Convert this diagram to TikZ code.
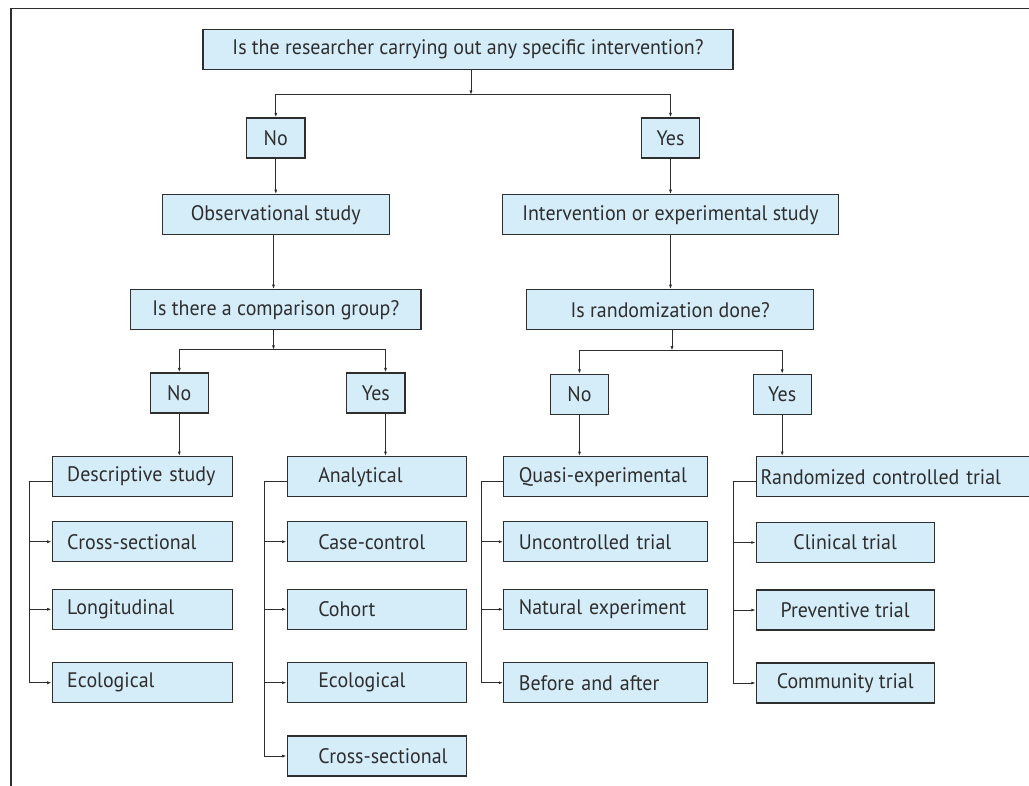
\documentclass[tikz,border=0pt]{standalone}
\usepackage{fontspec}
\setmainfont{PT Sans}[FakeStretch=0.95]
\usetikzlibrary{arrows.meta,calc}
\definecolor{boxfill}{HTML}{D5ECF9}
\definecolor{ink}{HTML}{2E2E2E}

\begin{document}
\begin{tikzpicture}[x=1pt,y=-1pt]
	\tikzset{box/.style={draw=ink,fill=boxfill,line width=1.1pt,minimum height=40pt,inner sep=0pt,text=ink,font=\fontsize{21}{25}\selectfont}}
	\tikzset{leaf/.style 2 args={box,anchor=west,text width=#1,align=left,execute at begin node={\hspace*{#2}}}}
	\tikzset{tip/.style={draw=ink,line width=1pt,-{Latex[length=4.5pt,width=3pt]}}}
	%\tikzset{every node/.style={draw=red}}
	\useasboundingbox (0,0) rectangle (1029,786);
	\clip (0,0) rectangle (1029,786);
	\draw[ink,line width=1.5pt] (11,786) -- (11,8.5) -- (1029,8.5);

	% questions and answers
	\node[box,minimum width=530] (q1) at (468,49.7) {Is the researcher carrying out any specific intervention?};
	\node[box,minimum width=58.3] (no1) at (275.8,138) {No};
	\node[box,minimum width=57.6] (yes1) at (670.5,138) {Yes};
	\node[box,minimum width=227] (obs) at (275.8,214.8) {Observational study};
	\node[box,minimum width=336.4] (int) at (670.5,214.8) {Intervention or experimental study};
	\node[box,minimum width=290.3] (cmp) at (275.8,309.8) {Is there a comparison group?};
	\node[box,minimum width=287] (rnd) at (670.2,309.8) {Is randomization done?};
	\node[box,minimum width=58] (no2) at (179.3,393) {No};
	\node[box,minimum width=58.3] (yes2) at (375.8,393) {Yes};
	\node[box,minimum width=57.6] (no3) at (579.5,394.5) {No};
	\node[box,minimum width=57.7] (yes3) at (782.2,394.5) {Yes};

	% study types
	\node[leaf={180pt}{15pt}] (desc) at (51.7,476.7) {Descriptive study};
	\node[leaf={180pt}{15pt}] (dcross) at (51.7,541.7) {Cross-sectional};
	\node[leaf={180pt}{15pt}] (dlong) at (51.7,609.3) {Longitudinal};
	\node[leaf={180pt}{15pt}] (deco) at (51.7,682.7) {Ecological};
	\node[leaf={179.6pt}{31pt}] (ana) at (286.7,476.7) {Analytical};
	\node[leaf={179.6pt}{31pt}] (acase) at (286.7,541.7) {Case-control};
	\node[leaf={179.6pt}{31pt}] (acoh) at (286.7,609.3) {Cohort};
	\node[leaf={179.6pt}{31pt}] (aeco) at (286.7,682.7) {Ecological};
	\node[leaf={179.6pt}{31pt}] (across) at (286.7,756) {Cross-sectional};
	\node[leaf={204pt}{15pt}] (quasi) at (503.3,476.7) {Quasi-experimental};
	\node[leaf={204pt}{15pt}] (qunc) at (503.3,541.7) {Uncontrolled trial};
	\node[leaf={204pt}{15pt}] (qnat) at (503.3,609.3) {Natural experiment};
	\node[leaf={204pt}{15pt}] (qba) at (503.3,682.7) {Before and after};
	\node[leaf={290pt}{4.3pt}] (rct) at (755.7,476.7) {Randomized controlled trial};
	\node[box,minimum width=177.7] (clin) at (845.2,542.5) {Clinical trial};
	\node[box,minimum width=177.7] (prev) at (845.2,610) {Preventive trial};
	\node[box,minimum width=177.7] (comm) at (845.2,683) {Community trial};

	% connectors
	\coordinate (s1) at (471,95);
	\coordinate (s2) at (273.5,350);
	\coordinate (s3) at (672,350.7);
	\draw[tip] (q1.south -| s1) -- (s1);
	\draw[tip] (s1) -| (no1.north);
	\draw[tip] (s1) -| (yes1.north);
	\draw[tip] (no1) -- (obs);
	\draw[tip] (yes1.south) -- (yes1.south |- int.north);
	\draw[tip] (obs.south -| s2) -- (s2 |- cmp.north);
	\draw[tip] (int.south) -- (int.south |- rnd.north);
	\draw[tip] (cmp.south -| s2) -- (s2);
	\draw[tip] (s2) -| (no2.north);
	\draw[tip] (s2) -| ([xshift=9.7pt]yes2.north);
	\draw[tip] (rnd.south -| s3) -- (s3);
	\draw[tip] (s3) -| (no3.north);
	\draw[tip] (s3) -| (yes3.north);
	\draw[tip] (no2.south) -- (no2.south |- desc.north);
	\draw[tip] ([xshift=9.7pt]yes2.south) -- ([xshift=9.7pt]yes2.south |- ana.north);
	\draw[tip] (no3.south) -- (no3.south |- quasi.north);
	\draw[tip] (yes3.south) -- (yes3.south |- rct.north);
	\foreach \c in {dcross,dlong,deco}
		\draw[tip] ($(desc.west)+(0,4.5)$) -- ++(-22,0) |- (\c.west);
	\foreach \c in {acase,acoh,aeco,across}
		\draw[tip] ($(ana.west)+(0,4.5)$) -- ++(-22,0) |- (\c.west);
	\foreach \c in {qunc,qnat,qba}
		\draw[tip] ($(quasi.west)+(0,4.5)$) -- ++(-22,0) |- (\c.west);
	\foreach \c in {clin,prev,comm}
		\draw[tip] ($(rct.west)+(0,4.5)$) -- ++(-22,0) |- (\c.west);
\end{tikzpicture}
\end{document}
